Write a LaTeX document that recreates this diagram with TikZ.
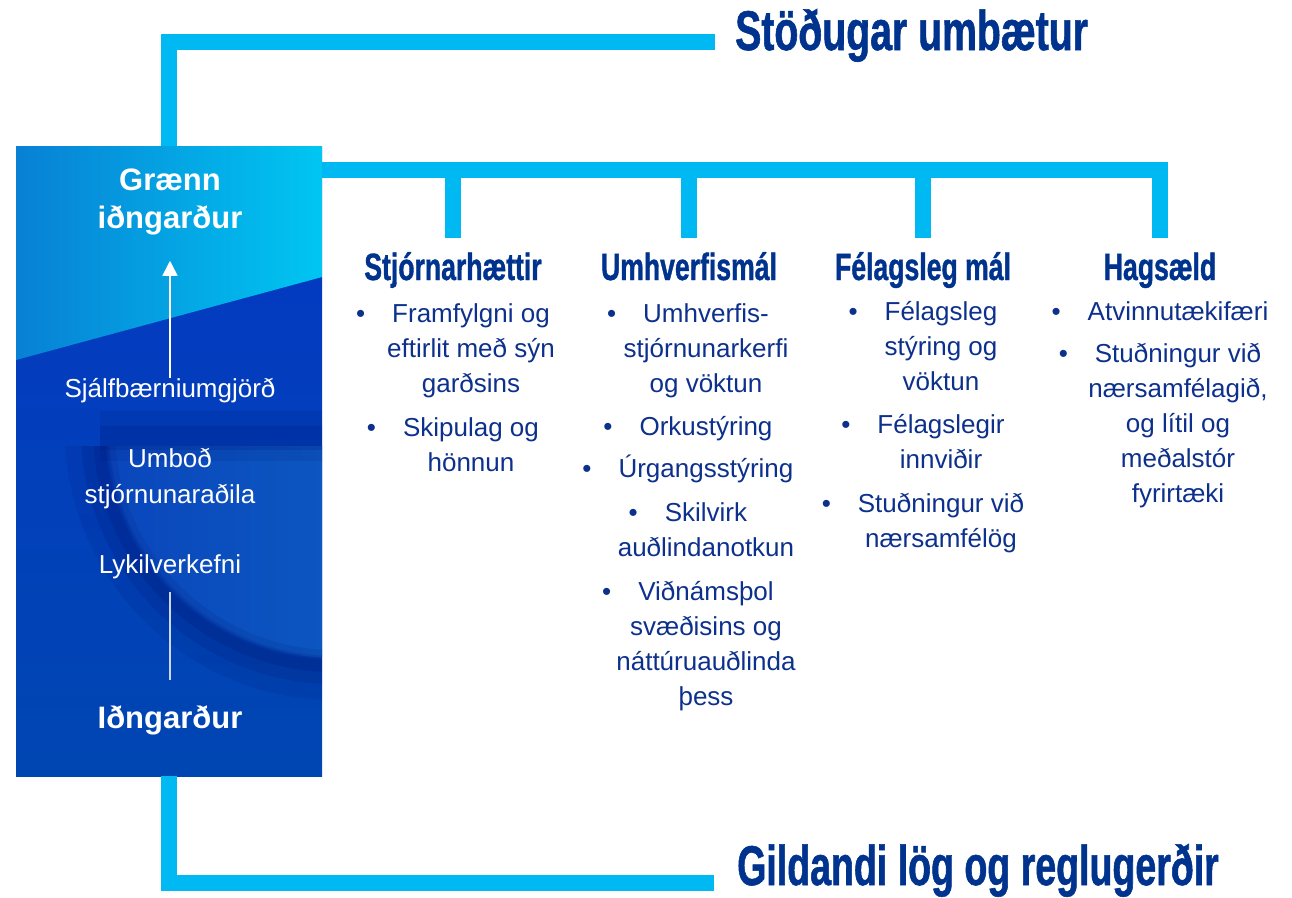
\documentclass[tikz,border=0pt]{standalone}
\usepackage{fontspec}
\setmainfont{Liberation Sans}
\newfontfamily\headfont[FakeStretch=0.70,FakeBold=1]{Liberation Sans}
\newfontfamily\headfontnarrow[FakeStretch=0.67,FakeBold=1]{Liberation Sans}
\usetikzlibrary{arrows.meta}
\definecolor{cyanbar}{RGB}{0,184,242}
\definecolor{navytext}{RGB}{0,51,141}
\definecolor{bodyblue}{RGB}{12,48,140}
\definecolor{upL}{RGB}{8,128,212}
\definecolor{upR}{RGB}{0,198,242}
\definecolor{lowA}{RGB}{4,56,196}
\definecolor{lowB}{RGB}{0,70,178}
\definecolor{swL}{RGB}{10,70,188}
\definecolor{swR}{RGB}{14,104,196}
\definecolor{darknavy}{RGB}{0,14,100}
\definecolor{greyline}{RGB}{205,215,235}
\newcommand{\mybullet}{\llap{\textbullet\hspace{27pt}}}
\newcommand{\firststrut}{\rule{0pt}{26pt}}
\tikzset{
  bar/.style={draw=cyanbar, line width=16pt, line join=miter},
  titletext/.style={font=\headfont\bfseries\fontsize{56}{60}\selectfont, text=navytext, inner sep=0pt, anchor=base west},
  titlenarrow/.style={titletext, font=\headfontnarrow\bfseries\fontsize{56}{60}\selectfont},
  headtext/.style={font=\headfont\bfseries\fontsize{38}{40}\selectfont, text=navytext, inner sep=0pt, anchor=base},
  itemtext/.style={font=\fontsize{26}{35}\selectfont, text=bodyblue, inner sep=0pt, anchor=north, align=center},
  boxbold/.style={font=\bfseries\fontsize{31}{38}\selectfont, text=white, inner sep=0pt, anchor=base, align=center},
  boxtext/.style={font=\fontsize{26}{36}\selectfont, text=white, inner sep=0pt, anchor=base, align=center},
  whitearrow/.style={draw=white, line width=1.6pt, -{Triangle[width=15pt,length=15pt]}},
  greyconn/.style={draw=greyline, line width=1.6pt}
}
\begin{document}
\begin{tikzpicture}[x=1pt,y=-1pt]
\useasboundingbox (0,0) rectangle (1292,897);
% ---- background of the left panel ----
\begin{scope}
  \clip (16,146) rectangle (322,776);
  \shade[top color=lowA, bottom color=lowB] (16,146) rectangle (322,776);
  \begin{scope}
    \clip (0,446) rectangle (400,800);
    \shade[left color=swL, right color=swR] (335,430) circle (228pt);
    \draw[darknavy, opacity=0.10, line width=50pt] (335,430) circle (245pt);
    \draw[darknavy, opacity=0.14, line width=28pt] (335,430) circle (240pt);
    \draw[darknavy, opacity=0.16, line width=12pt] (335,430) circle (236pt);
  \end{scope}
  \draw[darknavy, opacity=0.10, line width=50pt] (100,436) -- (340,436);
  \draw[darknavy, opacity=0.14, line width=24pt] (100,438) -- (340,438);
  \shade[left color=upL, right color=upR] (16,146) -- (322,146) -- (322,277) -- (16,360) -- cycle;
\end{scope}
\node[minimum width=306pt, minimum height=630pt, inner sep=0pt] (box) at (169,461) {};
% ---- texts in the panel ----
\node[boxbold] (graenn) at (170,228) {Grænn\\iðngarður};
\node[boxtext] (sjalf) at (170,397) {Sjálfbærniumgjörð};
\node[boxtext] (umbod) at (170,503) {Umboð\\stjórnunaraðila};
\node[boxtext] (lykil) at (170,573) {Lykilverkefni};
\node[boxbold] (idn) at (170,728) {Iðngarður};
\draw[whitearrow, shorten >=26pt] (sjalf.north) -- (graenn.south);
\draw[greyconn, shorten <=13pt, shorten >=25pt] (lykil.south) -- (idn.north);
% ---- titles ----
\node[titletext] (top) at (735,50) {Stöðugar umbætur};
\node[titlenarrow] (bottom) at (737,885) {Gildandi lög og reglugerðir};
\coordinate (tEnd) at (715,42);
\coordinate (bEnd) at (714,883);
\draw[bar] (box.north) |- (tEnd);
\draw[bar] (box.south) |- (bEnd);
% ---- headings ----
\node[headtext] (h1) at (453,280) {Stjórnarhættir};
\node[headtext] (h2) at (689,280) {Umhverfismál};
\node[headtext] (h3) at (923,280) {Félagsleg mál};
\node[headtext] (h4) at (1160,280) {Hagsæld};
\coordinate (bus) at (0,170);
\draw[bar] (box.east |- bus) -- (h4.north |- bus) -- ++(0,68);
\draw[bar] (h1.north |- bus) -- ++(0,68);
\draw[bar] (h2.north |- bus) -- ++(0,68);
\draw[bar] (h3.north |- bus) -- ++(0,68);
% ---- column 1 ----
\node[itemtext] (c1a) at (471,296) {\mybullet\firststrut Framfylgni og\\eftirlit með sýn\\garðsins};
\node[itemtext] (c1b) at (471,410) {\mybullet\firststrut Skipulag og\\hönnun};
% ---- column 2 ----
\node[itemtext] (c2a) at (706,296) {\mybullet\firststrut Umhverfis-\\stjórnunarkerfi\\og vöktun};
\node[itemtext] (c2b) at (706,409) {\mybullet\firststrut Orkustýring};
\node[itemtext] (c2c) at (706,451) {\mybullet\firststrut Úrgangsstýring};
\node[itemtext] (c2d) at (706,495) {\mybullet\firststrut Skilvirk\\auðlindanotkun};
\node[itemtext] (c2e) at (706,574) {\mybullet\firststrut Viðnámsþol\\svæðisins og\\náttúruauðlinda\\þess};
% ---- column 3 ----
\node[itemtext] (c3a) at (941,294) {\mybullet\firststrut Félagsleg\\stýring og\\vöktun};
\node[itemtext] (c3b) at (941,407) {\mybullet\firststrut Félagslegir\\innviðir};
\node[itemtext] (c3c) at (941,486) {\mybullet\firststrut Stuðningur við\\nærsamfélög};
% ---- column 4 ----
\node[itemtext] (c4a) at (1178,294) {\mybullet\firststrut Atvinnutækifæri};
\node[itemtext] (c4b) at (1178,336) {\mybullet\firststrut Stuðningur við\\nærsamfélagið,\\og lítil og\\meðalstór\\fyrirtæki};
\end{tikzpicture}
\end{document}
